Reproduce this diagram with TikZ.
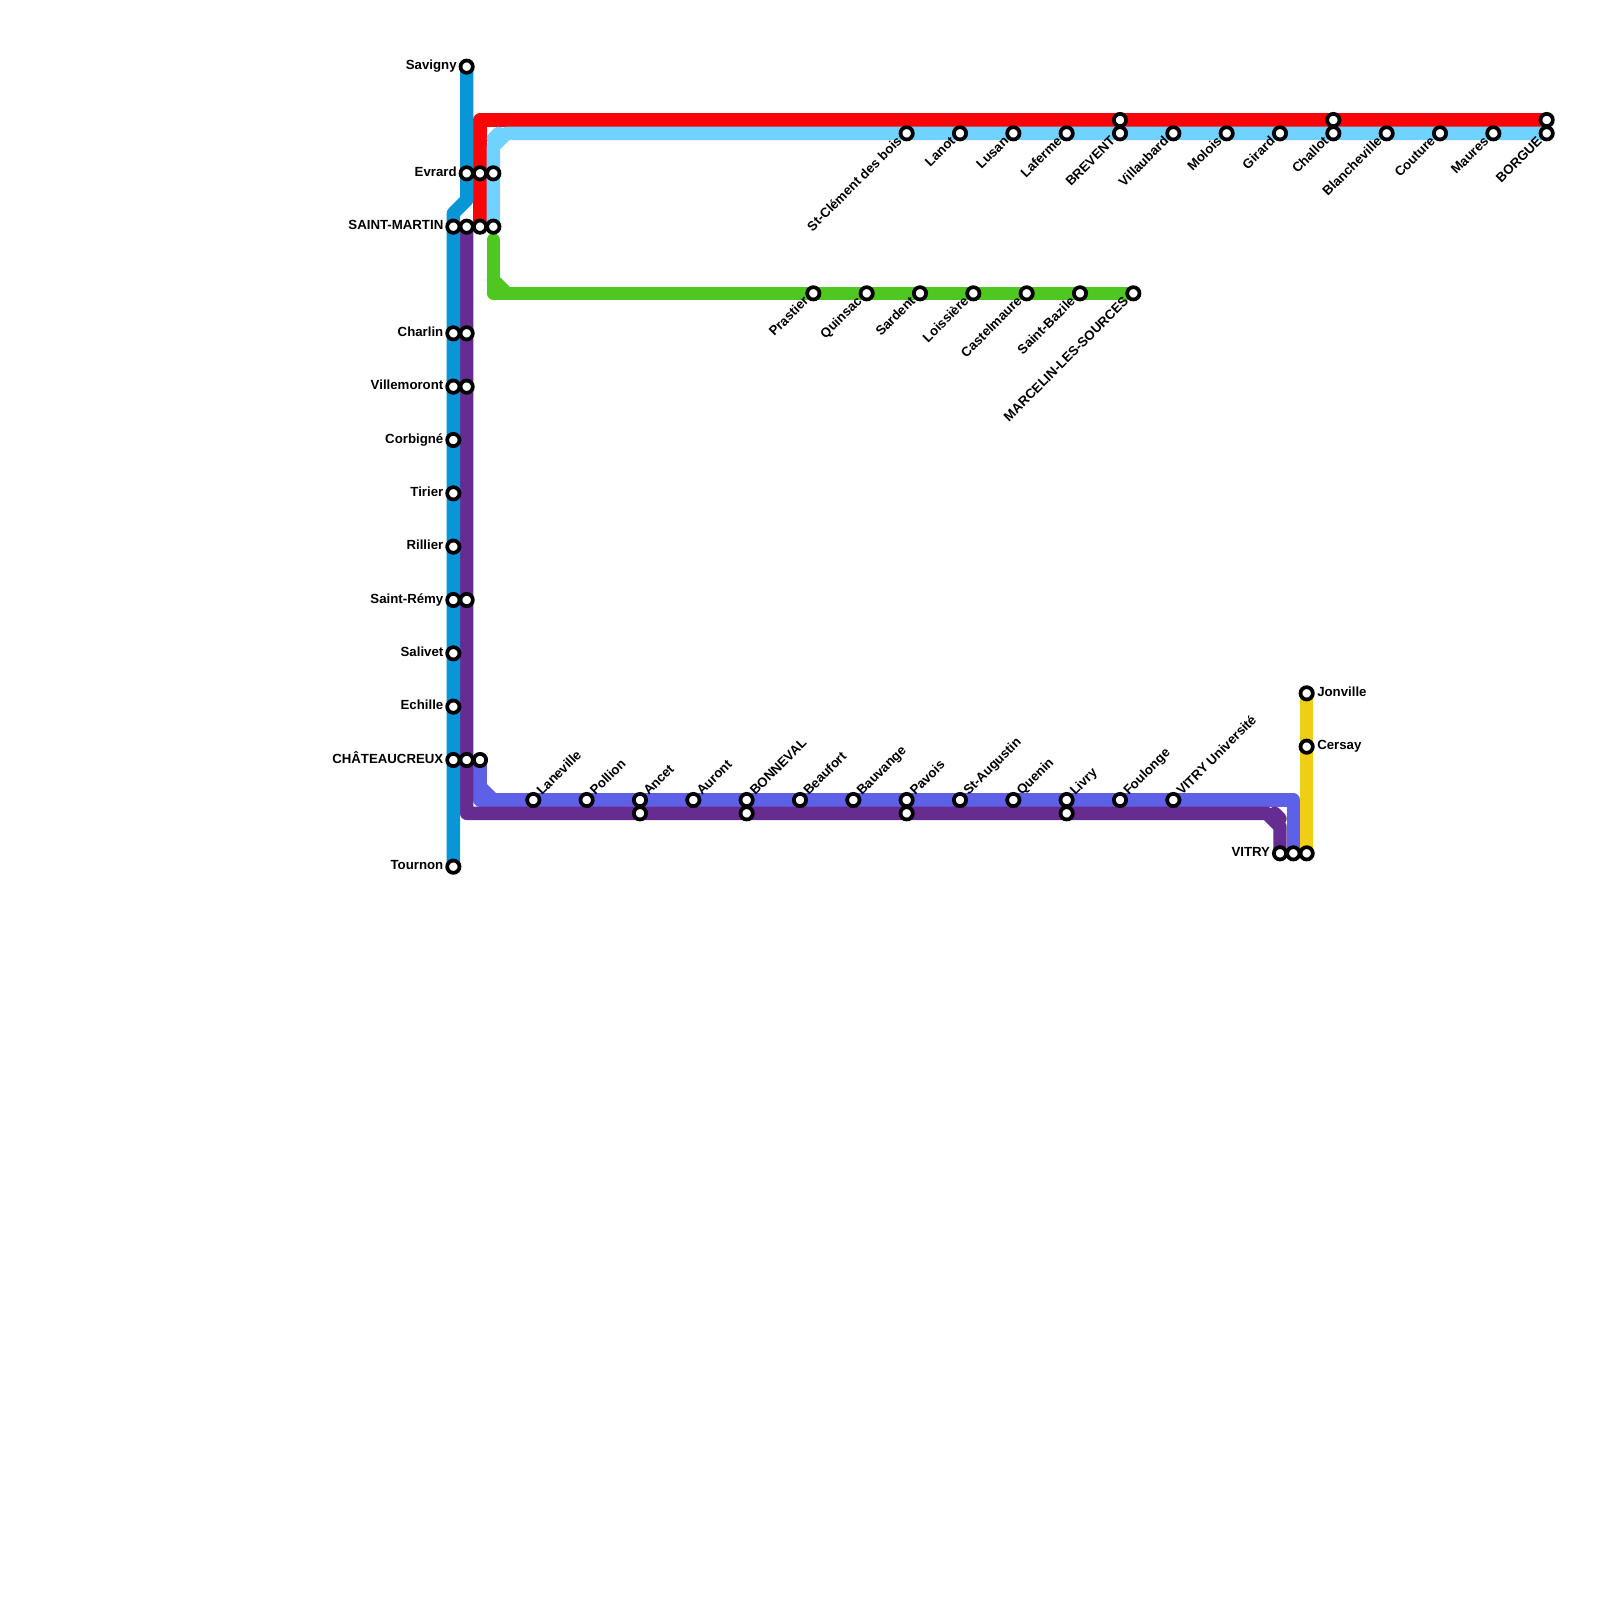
\documentclass[tikz,border=0pt]{standalone}
\usepackage{fontspec}
\setmainfont{Liberation Sans}
\usepackage{xcolor}
\usetikzlibrary{positioning,backgrounds}
\definecolor{lineblue}{HTML}{0896D7}
\definecolor{linered}{HTML}{F80508}
\definecolor{linesky}{HTML}{70D2FF}
\definecolor{linegreen}{HTML}{4FC721}
\definecolor{linepurple}{HTML}{662C90}
\definecolor{lineindigo}{HTML}{5E60E8}
\definecolor{lineyellow}{HTML}{F0CE15}
\begin{document}
\begin{tikzpicture}[
  x=0.4cm,y=-0.4cm,
  node distance=0pt,
  font=\fontsize{11.3}{11.3}\selectfont\bfseries,
  metro/.style={draw=#1,line width=0.4cm,line cap=round,line join=round},
  stn/.style={circle,draw=black,fill=white,line width=3.2pt,minimum size=10.5pt,inner sep=0pt},
  lab/.style={inner sep=0pt,text height=8pt,text depth=2.4pt},
  labw/.style={lab,left=1.5pt of #1},
  labe/.style={lab,right=2pt of #1},
  labsw/.style={lab,below left=0.5pt and 0.5pt of #1,anchor=east,rotate=45},
  labne/.style={lab,above right=0.5pt and 0.5pt of #1,anchor=west,rotate=45},
]
\useasboundingbox (0,0) rectangle (120,120);
\node[stn] (savigny) at (35,5) {};
\node[stn] (evrard) at (35,13) {};
\node[stn] (evrardr) at (36,13) {};
\node[stn] (evrards) at (37,13) {};
\node[stn] (martin) at (34,17) {};
\node[stn] (martinp) at (35,17) {};
\node[stn] (martinr) at (36,17) {};
\node[stn] (martins) at (37,17) {};
\node[stn] (charlin) at (34,25) {};
\node[stn] (charlinp) at (35,25) {};
\node[stn] (villemoront) at (34,29) {};
\node[stn] (villemorontp) at (35,29) {};
\node[stn] (corbigne) at (34,33) {};
\node[stn] (tirier) at (34,37) {};
\node[stn] (rillier) at (34,41) {};
\node[stn] (remy) at (34,45) {};
\node[stn] (remyp) at (35,45) {};
\node[stn] (salivet) at (34,49) {};
\node[stn] (echille) at (34,53) {};
\node[stn] (chateau) at (34,57) {};
\node[stn] (chateaup) at (35,57) {};
\node[stn] (chateaui) at (36,57) {};
\node[stn] (tournon) at (34,65) {};
\node[labw=savigny] (savignyt) {Savigny};
\node[labw=evrard] (evrardt) {Evrard};
\node[labw=martin] (martint) {SAINT-MARTIN};
\node[labw=charlin] (charlint) {Charlin};
\node[labw=villemoront] (villemorontt) {Villemoront};
\node[labw=corbigne] (corbignet) {Corbigné};
\node[labw=tirier] (tiriert) {Tirier};
\node[labw=rillier] (rilliert) {Rillier};
\node[labw=remy] (remyt) {Saint-Rémy};
\node[labw=salivet] (salivett) {Salivet};
\node[labw=echille] (echillet) {Echille};
\node[labw=chateau] (chateaut) {CHÂTEAUCREUX};
\node[labw=tournon] (tournont) {Tournon};
\node[stn] (clement) at (68,10) {};
\node[stn] (lanot) at (72,10) {};
\node[stn] (lusan) at (76,10) {};
\node[stn] (laferme) at (80,10) {};
\node[stn] (brevent) at (84,10) {};
\node[stn] (breventr) at (84,9) {};
\node[stn] (villaubard) at (88,10) {};
\node[stn] (molois) at (92,10) {};
\node[stn] (girard) at (96,10) {};
\node[stn] (challot) at (100,10) {};
\node[stn] (challotr) at (100,9) {};
\node[stn] (blancheville) at (104,10) {};
\node[stn] (couture) at (108,10) {};
\node[stn] (maures) at (112,10) {};
\node[stn] (borgue) at (116,10) {};
\node[stn] (borguer) at (116,9) {};
\node[labsw=clement] (clementt) {St-Clément des bois};
\node[labsw=lanot] (lanott) {Lanot};
\node[labsw=lusan] (lusant) {Lusan};
\node[labsw=laferme] (lafermet) {Laferme};
\node[labsw=brevent] (breventt) {BREVENT};
\node[labsw=villaubard] (villaubardt) {Villaubard};
\node[labsw=molois] (moloist) {Molois};
\node[labsw=girard] (girardt) {Girard};
\node[labsw=challot] (challott) {Challot};
\node[labsw=blancheville] (blanchevillet) {Blancheville};
\node[labsw=couture] (couturet) {Couture};
\node[labsw=maures] (maurest) {Maures};
\node[labsw=borgue] (borguet) {BORGUE};
\node[stn] (prastier) at (61,22) {};
\node[stn] (quinsac) at (65,22) {};
\node[stn] (sardent) at (69,22) {};
\node[stn] (loissiere) at (73,22) {};
\node[stn] (castelmaure) at (77,22) {};
\node[stn] (bazile) at (81,22) {};
\node[stn] (marcelin) at (85,22) {};
\node[labsw=prastier] (prastiert) {Prastier};
\node[labsw=quinsac] (quinsact) {Quinsac};
\node[labsw=sardent] (sardentt) {Sardent};
\node[labsw=loissiere] (loissieret) {Loissière};
\node[labsw=castelmaure] (castelmauret) {Castelmaure};
\node[labsw=bazile] (bazilet) {Saint-Bazile};
\node[labsw=marcelin] (marcelint) {MARCELIN-LES-SOURCES};
\node[stn] (laneville) at (40,60) {};
\node[stn] (pollion) at (44,60) {};
\node[stn] (ancet) at (48,60) {};
\node[stn] (ancetp) at (48,61) {};
\node[stn] (auront) at (52,60) {};
\node[stn] (bonneval) at (56,60) {};
\node[stn] (bonnevalp) at (56,61) {};
\node[stn] (beaufort) at (60,60) {};
\node[stn] (bauvange) at (64,60) {};
\node[stn] (pavois) at (68,60) {};
\node[stn] (pavoisp) at (68,61) {};
\node[stn] (augustin) at (72,60) {};
\node[stn] (quenin) at (76,60) {};
\node[stn] (livry) at (80,60) {};
\node[stn] (livryp) at (80,61) {};
\node[stn] (foulonge) at (84,60) {};
\node[stn] (universite) at (88,60) {};
\node[labne=laneville] (lanevillet) {Laneville};
\node[labne=pollion] (polliont) {Pollion};
\node[labne=ancet] (ancett) {Ancet};
\node[labne=auront] (aurontt) {Auront};
\node[labne=bonneval] (bonnevalt) {BONNEVAL};
\node[labne=beaufort] (beaufortt) {Beaufort};
\node[labne=bauvange] (bauvanget) {Bauvange};
\node[labne=pavois] (pavoist) {Pavois};
\node[labne=augustin] (augustint) {St-Augustin};
\node[labne=quenin] (quenint) {Quenin};
\node[labne=livry] (livryt) {Livry};
\node[labne=foulonge] (foulonget) {Foulonge};
\node[labne=universite] (universitet) {VITRY Université};
\node[stn] (vitry) at (96,64) {};
\node[stn] (vitryi) at (97,64) {};
\node[stn] (vitryy) at (98,64) {};
\node[stn] (jonville) at (98,52) {};
\node[stn] (cersay) at (98,56) {};
\node[labw=vitry] (vitryt) {VITRY};
\node[labe=jonville] (jonvillet) {Jonville};
\node[labe=cersay] (cersayt) {Cersay};
\coordinate (bluea) at (35,15);
\coordinate (blueb) at (34,16);
\coordinate (reda) at (36,9);
\coordinate (skya) at (37,11);
\coordinate (skyb) at (38,10);
\coordinate (skyc) at (37,10.4);
\coordinate (skyd) at (37.4,10);
\coordinate (greena) at (37,18);
\coordinate (greenb) at (37,22);
\coordinate (greenc) at (37,21);
\coordinate (greend) at (38,22);
\coordinate (indigoa) at (36,60);
\coordinate (indigob) at (97,60);
\coordinate (indigoc) at (36,59);
\coordinate (indigod) at (37,60);
\coordinate (purplea) at (35,61);
\coordinate (purpleb) at (95,61);
\coordinate (purplec) at (96,62);
\coordinate (purpled) at (95.6,61);
\coordinate (purplee) at (96,61.4);
\begin{pgfonlayer}{background}
\draw[metro=lineyellow] (jonville.center) -- (vitryy.center);
\draw[metro=linegreen] (greena) -- (greenb) -- (marcelin.center);
\draw[metro=linegreen] (greenc) -- (greend);
\draw[metro=linered] (martinr.center) -- (reda) -- (borguer.center);
\draw[metro=linesky] (martins.center) -- (skya) -- (skyb) -- (borgue.center);
\draw[metro=linesky] (skyc) -- (skyd);
\draw[metro=lineindigo] (chateaui.center) -- (indigoa) -- (indigob) -- (vitryi.center);
\draw[metro=lineindigo] (indigoc) -- (indigod);
\draw[metro=linepurple] (martinp.center) -- (purplea) -- (purpleb) -- (purplec) -- (vitry.center);
\draw[metro=linepurple] (purpled) -- (purplee);
\draw[metro=lineblue] (savigny.center) -- (bluea) -- (blueb) -- (tournon.center);
\end{pgfonlayer}
\end{tikzpicture}
\end{document}
